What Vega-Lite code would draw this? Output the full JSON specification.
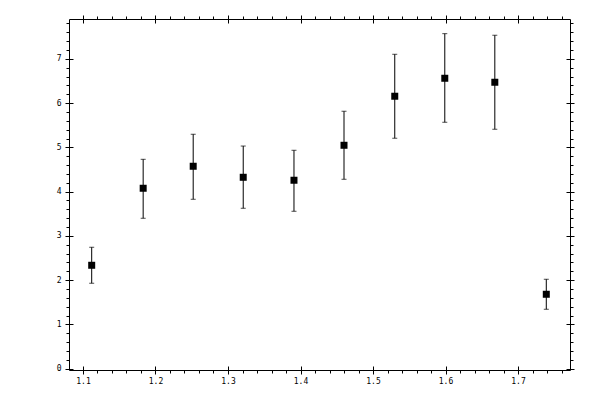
{
  "$schema": "https://vega.github.io/schema/vega-lite/v6.json",
  "width": 501,
  "height": 351,
  "autosize": "none",
  "padding": {"left": 69, "top": 19, "right": 30, "bottom": 30},
  "background": "white",
  "config": {
    "view": {"stroke": null},
    "axis": {
      "domainColor": "black",
      "domainWidth": 1,
      "tickColor": "black",
      "tickWidth": 1,
      "grid": false,
      "title": null,
      "labelFont": "DejaVu Sans Mono",
      "labelFontSize": 8,
      "labelColor": "black",
      "labelFlush": false,
      "labelOverlap": false
    }
  },
  "data": {
    "values": [
      {"x": 1.112, "y": 2.336, "lo": 1.93, "hi": 2.743},
      {"x": 1.183, "y": 4.076, "lo": 3.398, "hi": 4.73},
      {"x": 1.252, "y": 4.573, "lo": 3.827, "hi": 5.296},
      {"x": 1.321, "y": 4.324, "lo": 3.624, "hi": 5.03},
      {"x": 1.391, "y": 4.257, "lo": 3.556, "hi": 4.934},
      {"x": 1.46, "y": 5.047, "lo": 4.279, "hi": 5.816},
      {"x": 1.53, "y": 6.155, "lo": 5.206, "hi": 7.103},
      {"x": 1.599, "y": 6.561, "lo": 5.567, "hi": 7.569},
      {"x": 1.668, "y": 6.471, "lo": 5.409, "hi": 7.533},
      {"x": 1.739, "y": 1.681, "lo": 1.342, "hi": 2.02}
    ]
  },
  "resolve": {"axis": {"x": "independent", "y": "independent"}},
  "layer": [
    {
      "mark": {"type": "rule", "color": "black", "strokeWidth": 1},
      "encoding": {
        "x": {
          "field": "x", "type": "quantitative",
          "scale": {"domain": [1.0807, 1.7717], "zero": false, "nice": false},
          "axis": {
            "orient": "bottom",
            "values": [1.08, 1.1, 1.12, 1.14, 1.16, 1.18, 1.2, 1.22, 1.24, 1.26, 1.28, 1.3, 1.32, 1.34, 1.36, 1.38, 1.4, 1.42, 1.44, 1.46, 1.48, 1.5, 1.52, 1.54, 1.56, 1.58, 1.6, 1.62, 1.64, 1.66, 1.68, 1.7, 1.72, 1.74, 1.76],
            "labelExpr": "abs(datum.value * 10 - round(datum.value * 10)) < 0.001 ? format(datum.value, '.1f') : ''",
            "tickSize": {"condition": {"test": "abs(datum.value * 10 - round(datum.value * 10)) < 0.001", "value": 4}, "value": 3},
            "labelPadding": 3
          }
        },
        "y": {
          "field": "lo", "type": "quantitative",
          "scale": {"domain": [-0.03, 7.9], "zero": false, "nice": false},
          "axis": {
            "orient": "left",
            "values": [0, 0.2, 0.4, 0.6, 0.8, 1, 1.2, 1.4, 1.6, 1.8, 2, 2.2, 2.4, 2.6, 2.8, 3, 3.2, 3.4, 3.6, 3.8, 4, 4.2, 4.4, 4.6, 4.8, 5, 5.2, 5.4, 5.6, 5.8, 6, 6.2, 6.4, 6.6, 6.8, 7, 7.2, 7.4, 7.6, 7.8],
            "labelExpr": "abs(datum.value - round(datum.value)) < 0.001 ? format(datum.value, 'd') : ''",
            "tickSize": {"condition": {"test": "abs(datum.value - round(datum.value)) < 0.001", "value": 4}, "value": 3},
            "labelPadding": 4
          }
        },
        "y2": {"field": "hi"}
      }
    },
    {
      "mark": {"type": "tick", "orient": "horizontal", "size": 5, "thickness": 1, "color": "black"},
      "encoding": {
        "x": {
          "field": "x", "type": "quantitative",
          "axis": {
            "orient": "top",
            "values": [1.08, 1.1, 1.12, 1.14, 1.16, 1.18, 1.2, 1.22, 1.24, 1.26, 1.28, 1.3, 1.32, 1.34, 1.36, 1.38, 1.4, 1.42, 1.44, 1.46, 1.48, 1.5, 1.52, 1.54, 1.56, 1.58, 1.6, 1.62, 1.64, 1.66, 1.68, 1.7, 1.72, 1.74, 1.76],
            "labels": false,
            "tickSize": {"condition": {"test": "abs(datum.value * 10 - round(datum.value * 10)) < 0.001", "value": 4}, "value": 3}
          }
        },
        "y": {
          "field": "lo", "type": "quantitative",
          "axis": {
            "orient": "right",
            "values": [0, 0.2, 0.4, 0.6, 0.8, 1, 1.2, 1.4, 1.6, 1.8, 2, 2.2, 2.4, 2.6, 2.8, 3, 3.2, 3.4, 3.6, 3.8, 4, 4.2, 4.4, 4.6, 4.8, 5, 5.2, 5.4, 5.6, 5.8, 6, 6.2, 6.4, 6.6, 6.8, 7, 7.2, 7.4, 7.6, 7.8],
            "labels": false,
            "tickSize": {"condition": {"test": "abs(datum.value - round(datum.value)) < 0.001", "value": 4}, "value": 3}
          }
        }
      }
    },
    {
      "mark": {"type": "tick", "orient": "horizontal", "size": 5, "thickness": 1, "color": "black"},
      "encoding": {
        "x": {
          "field": "x", "type": "quantitative",
          "axis": {"orient": "bottom", "values": [1.1, 1.2, 1.3, 1.4, 1.5, 1.6, 1.7], "labels": false, "domain": false, "tickSize": -4}
        },
        "y": {
          "field": "hi", "type": "quantitative",
          "axis": {"orient": "left", "values": [0, 1, 2, 3, 4, 5, 6, 7], "labels": false, "domain": false, "tickSize": -4}
        }
      }
    },
    {
      "mark": {"type": "point", "shape": "square", "filled": true, "size": 49, "color": "black", "opacity": 1},
      "encoding": {
        "x": {
          "field": "x", "type": "quantitative",
          "axis": {"orient": "top", "values": [1.1, 1.2, 1.3, 1.4, 1.5, 1.6, 1.7], "labels": false, "domain": false, "tickSize": -4}
        },
        "y": {
          "field": "y", "type": "quantitative",
          "axis": {"orient": "right", "values": [0, 1, 2, 3, 4, 5, 6, 7], "labels": false, "domain": false, "tickSize": -4}
        }
      }
    }
  ]
}
